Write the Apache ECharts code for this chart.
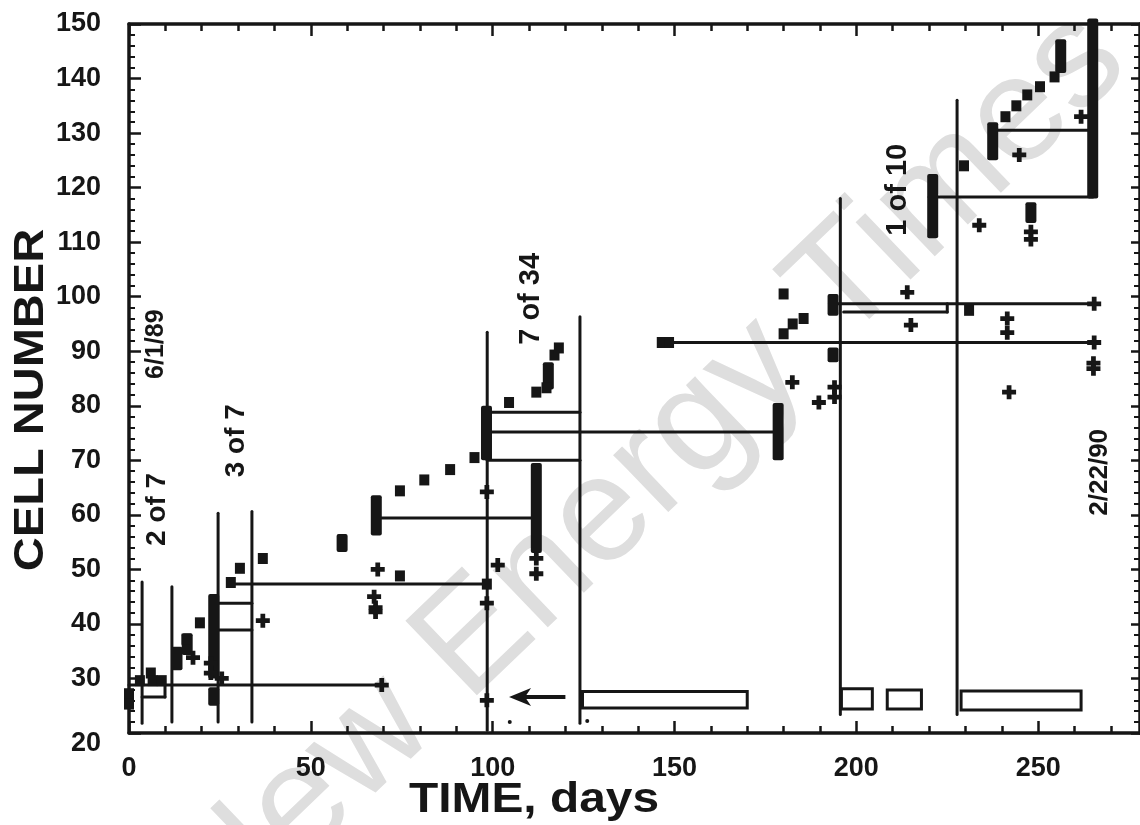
<!DOCTYPE html>
<html>
<head>
<meta charset="utf-8">
<script src="https://cdn.jsdelivr.net/npm/echarts@6/dist/echarts.min.js"></script>
<style>
html,body{margin:0;padding:0;background:#fff;}
#chart{width:1140px;height:825px;}
</style>
</head>
<body>
<div id="chart"></div>
<script>
// ---- data (days, cell number) ----
const xTickLabels = [0, 50, 100, 150, 200, 250];
const yTickLabels = [20, 30, 40, 50, 60, 70, 80, 90, 100, 110, 120, 130, 140, 150];

// horizontal run lines: [startDay, endDay, cell]
const hLines = [
  [0, 69.5, 28.8],
  [3.6, 9.9, 26.6],
  [24.5, 33.8, 43.8],
  [24.5, 33.8, 38.9],
  [28, 98.5, 47.3],
  [68, 111, 59.4],
  [98.5, 124, 78.8],
  [98.5, 178.3, 75.2],
  [98.5, 124, 70.0],
  [146, 265.4, 91.6],
  [192.6, 265.4, 98.7],
  [196.5, 225, 97.2],
  [220, 265, 118.3],
  [238.5, 265, 130.5]
];

// vertical lines: [day, cellLow, cellHigh]
const vLines = [
  [3.6, 21.8, 47.7],
  [9.9, 26.6, 28.8],
  [11.8, 22.0, 46.8],
  [24.5, 22.0, 60.3],
  [33.8, 22.0, 60.6],
  [98.5, 20.5, 93.5],
  [124.0, 21.8, 96.3],
  [195.6, 23.4, 118.0],
  [227.7, 23.4, 136.0],
  [225.0, 97.2, 98.7]
];

// open boxes near the bottom: [startDay, endDay, low, high]
const boxes = [
  [124.7, 170.0, 24.6, 27.6],
  [195.9, 204.4, 24.4, 28.1],
  [208.5, 217.9, 24.4, 27.9],
  [228.8, 261.8, 24.2, 27.7]
];

// stacked square markers (columns): [day, low, high]
const stacks = [
  [13.2, 31.5, 35.8],
  [16.0, 34.3, 38.3],
  [23.3, 30.0, 45.5],
  [23.3, 25.0, 28.4],
  [58.6, 53.2, 56.5],
  [68.0, 56.2, 63.6],
  [98.3, 70.0, 80.0],
  [112.0, 53.0, 69.5],
  [115.3, 83.0, 88.0],
  [178.5, 70.0, 80.5],
  [193.6, 96.5, 100.5],
  [193.6, 88.0, 90.7],
  [221.0, 110.7, 122.5],
  [237.5, 125.0, 132.0],
  [248.0, 113.5, 117.3],
  [256.2, 141.0, 147.2],
  [265.0, 118.0, 151.0]
];

// single square markers: [day, cell]
const squares = [
  [0, 27.2], [0, 25.3], [6, 31], [3, 29.6], [6.5, 29.6], [9, 29.6],
  [15.8, 37.2], [19.5, 40.2], [28, 47.6], [30.5, 50.2], [36.8, 52],
  [74.5, 48.8], [74.5, 64.4], [81.2, 66.4], [88.3, 68.3], [95, 70.5],
  [98.4, 47.3], [104.5, 80.6], [112, 82.5], [114.8, 83.3], [117, 89.3], [118.2, 90.6],
  [146.5, 91.6], [148.5, 91.6], [180, 100.5], [182.5, 95], [185.5, 96], [180, 93.2],
  [231, 97.5], [229.6, 124], [241, 133], [244, 135], [247, 137],
  [250.5, 138.5], [254.5, 140.3]
];

// plus markers: [day, cell]
const pluses = [
  [17.6, 33.8], [22.5, 32.8], [22.5, 31], [25.5, 30], [36.8, 40.6],
  [68.4, 50], [67.4, 45], [67.8, 43], [67.8, 42.2], [69.5, 28.8],
  [98.4, 64.2], [98.4, 43.8], [98.4, 26], [101.4, 50.8], [112, 52], [112, 49.2],
  [182.4, 84.3], [189.7, 80.6], [194, 83.4], [194, 81.6], [214, 100.8], [215, 94.8],
  [233.8, 113.1], [244.8, 126], [248, 111.9], [248, 110.5], [261.8, 133],
  [241.5, 96], [241.5, 93.4], [242, 82.5], [265.4, 98.7], [265.4, 91.6],
  [265.2, 87.8], [265.2, 86.8]
];

// tiny dots and the arrow
const dots = [[104.7, 22], [126, 22.2]];
const arrows = [[120, 104.5, 26.6]]; // [fromDay, toDay, cell]

// rotated annotations: [text, day, cell, fontSize]
const notes = [
  ['6/1/89', 7.5, 91.3, 25],
  ['2 of 7', 7.8, 61.0, 28],
  ['3 of 7', 29.5, 73.6, 28],
  ['7 of 34', 110.5, 99.6, 29],
  ['1 of 10', 211.5, 119.6, 29],
  ['2/22/90', 267, 67.8, 26]
];

// ---- rendering ----
const INK = '#161616';
const FONT = '"Liberation Sans", Arial, sans-serif';
const chart = echarts.init(document.getElementById('chart'));

function hLineItem(params, api) {
  const a = api.coord([api.value(0), api.value(2)]);
  const b = api.coord([api.value(1), api.value(2)]);
  return {type: 'line', shape: {x1: a[0], y1: a[1], x2: b[0], y2: b[1]},
    style: {stroke: INK, lineWidth: 3, lineCap: 'round'}};
}
function vLineItem(params, api) {
  const a = api.coord([api.value(0), api.value(1)]);
  const b = api.coord([api.value(0), api.value(2)]);
  return {type: 'line', shape: {x1: a[0], y1: a[1], x2: b[0], y2: b[1]},
    style: {stroke: INK, lineWidth: 3, lineCap: 'round'}};
}
function boxItem(params, api) {
  const a = api.coord([api.value(0), api.value(3)]);
  const b = api.coord([api.value(1), api.value(2)]);
  return {type: 'rect', shape: {x: a[0], y: a[1], width: b[0] - a[0], height: b[1] - a[1]},
    style: {stroke: INK, lineWidth: 3, fill: 'none'}};
}
function stackItem(params, api) {
  const a = api.coord([api.value(0), api.value(2)]);
  const b = api.coord([api.value(0), api.value(1)]);
  const w = 11;
  return {type: 'rect', shape: {x: a[0] - w / 2, y: a[1], width: w, height: b[1] - a[1], r: 2},
    style: {fill: INK}};
}
function arrowItem(params, api) {
  const a = api.coord([api.value(0), api.value(2)]);
  const b = api.coord([api.value(1), api.value(2)]);
  return {type: 'group', children: [
    {type: 'line', shape: {x1: a[0], y1: a[1], x2: b[0] + 14, y2: b[1]},
      style: {stroke: INK, lineWidth: 4}},
    {type: 'polygon', shape: {points: [[b[0], b[1]], [b[0] + 22, b[1] - 9], [b[0] + 16, b[1]], [b[0] + 22, b[1] + 9]]},
      style: {fill: INK}}
  ]};
}
function noteItem(params, api) {
  const p = api.coord([api.value(1), api.value(2)]);
  return {type: 'text', x: p[0], y: p[1], rotation: Math.PI / 2,
    style: {text: api.value(0), fill: INK, font: 'bold ' + api.value(3) + 'px ' + FONT,
      align: 'center', verticalAlign: 'middle'}};
}

const PLUS = 'path://M3.3,0H6.7V3.3H10V6.7H6.7V10H3.3V6.7H0V3.3H3.3Z';
const grid = {left: 129, top: 24, width: 1012, height: 709};
const axisLineStyle = {color: INK, width: 3.5};

function xAxisDef(pos, interval, tickLen, withLine, withLabel) {
  return {
    type: 'value', position: pos, min: 0, max: 278, interval: interval,
    axisLine: {show: withLine, onZero: false, lineStyle: axisLineStyle},
    axisTick: {show: true, inside: true, length: tickLen, lineStyle: {color: INK, width: 2.5}},
    splitLine: {show: false},
    axisLabel: {show: withLabel, showMaxLabel: false, margin: 22, color: INK,
      fontFamily: FONT, fontWeight: 'bold', fontSize: 27,
      formatter: v => xTickLabels.indexOf(v) >= 0 ? String(v) : ''}
  };
}
function yAxisDef(pos, tickLen, minorLen, withLabel) {
  return {
    type: 'value', position: pos, min: 20, max: 150, interval: 10,
    axisLine: {show: true, onZero: false, lineStyle: axisLineStyle},
    axisTick: {show: true, inside: true, length: tickLen, lineStyle: {color: INK, width: 2.5}},
    minorTick: {show: true, splitNumber: 5, length: minorLen, lineStyle: {color: INK, width: 2}},
    splitLine: {show: false},
    axisLabel: {show: withLabel, margin: 28, color: INK, fontFamily: FONT, fontWeight: 'bold', fontSize: 27,
      formatter: v => yTickLabels.indexOf(v) < 0 ? '' : (v === 20 ? '{low|20}' : String(v)),
      rich: {low: {padding: [22, 0, 0, 0], fontFamily: FONT, fontWeight: 'bold', fontSize: 27, color: INK}}}
  };
}

const option = {
  animation: false,
  backgroundColor: '#ffffff',
  grid: grid,
  xAxis: [
    xAxisDef('bottom', 50, 12, true, true),
    xAxisDef('bottom', 10, 7, false, false),
    xAxisDef('top', 50, 12, true, false),
    xAxisDef('top', 10, 7, false, false)
  ],
  yAxis: [
    yAxisDef('left', 12, 6, true),
    yAxisDef('right', 9, 6, false)
  ],
  graphic: [
    {type: 'text', x: 648, y: 474, rotation: 43.8 * Math.PI / 180, z: -10, silent: true,
      style: {text: 'New Energy Times', fill: '#dedede', font: '150px ' + FONT,
        align: 'center', verticalAlign: 'middle'}},
    {type: 'text', x: 31, y: 400, rotation: Math.PI / 2, scaleX: 1.12,
      style: {text: 'CELL NUMBER', fill: INK, font: 'bold 42px ' + FONT, align: 'center', verticalAlign: 'middle'}},
    {type: 'text', x: 534, y: 800, scaleX: 1.14,
      style: {text: 'TIME, days', fill: INK, font: 'bold 42px ' + FONT, align: 'center', verticalAlign: 'middle'}}
  ],
  series: [
    {type: 'custom', name: 'runs', renderItem: hLineItem, data: hLines, z: 3},
    {type: 'custom', name: 'events', renderItem: vLineItem, data: vLines, z: 3},
    {type: 'custom', name: 'periods', renderItem: boxItem, data: boxes, z: 3},
    {type: 'custom', name: 'stacks', renderItem: stackItem, data: stacks, z: 4},
    {type: 'scatter', name: 'squares', data: squares, symbol: 'rect', symbolSize: [10, 11],
      itemStyle: {color: INK, opacity: 1}, z: 5},
    {type: 'scatter', name: 'pluses', data: pluses, symbol: PLUS, symbolSize: 14,
      itemStyle: {color: INK, opacity: 1}, z: 5},
    {type: 'scatter', name: 'dots', data: dots, symbol: 'circle', symbolSize: 4,
      itemStyle: {color: INK, opacity: 1}, z: 5},
    {type: 'custom', name: 'arrow', renderItem: arrowItem, data: arrows, z: 5},
    {type: 'custom', name: 'notes', renderItem: noteItem, data: notes, z: 6,
      dimensions: ['text', 'x', 'y', 'size'], encode: {x: 1, y: 2}}
  ]
};
chart.setOption(option);
</script>
</body>
</html>
